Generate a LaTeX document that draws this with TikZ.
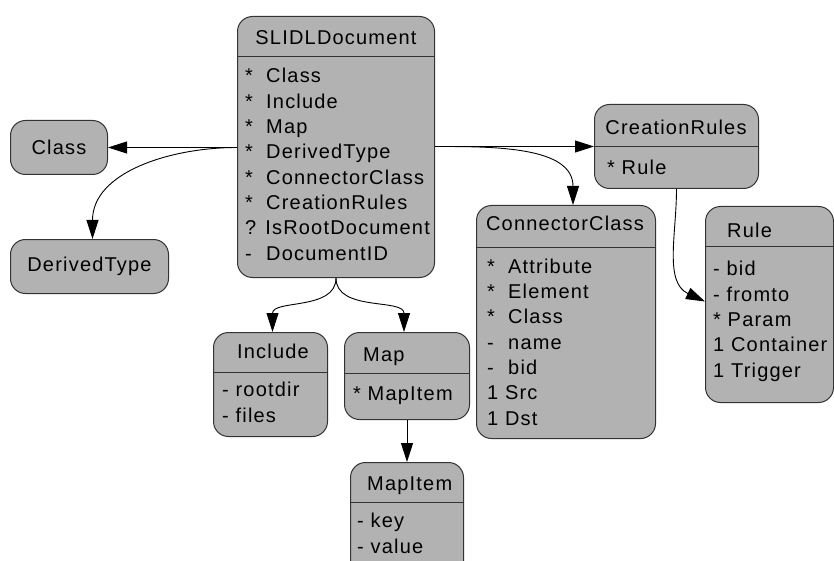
\documentclass[tikz,border=0pt]{standalone}
\usepackage{fontspec}
\setmainfont[LetterSpace=6]{Liberation Sans}
\usetikzlibrary{arrows.meta}
\definecolor{boxgray}{RGB}{178,178,178}
\newcommand{\mk}[1]{\makebox[21pt][l]{#1}}

\begin{document}
\begin{tikzpicture}[x=1pt,y=-1pt,
  classbox/.style={draw=black!80,line width=1pt,fill=boxgray,rounded corners=15pt,
    inner sep=0pt,anchor=north west,font=\fontsize{20}{25.3}\selectfont},
  hdrtext/.style={inner sep=0pt,font=\fontsize{20}{25.3}\selectfont},
  bodytext/.style={hdrtext,align=left,anchor=base west},
  sepline/.style={draw=black!80,line width=1pt},
  arr/.style={line width=0.9pt,-{Triangle[length=19pt,width=12pt]}}]
  \clip (0,0) rectangle (834,561);
  % boxes
  \node[classbox,minimum width=197,minimum height=261] (doc) at (237,16) {};
  \node[classbox,minimum width=97,minimum height=54] (cls) at (10,120) {Class};
  \node[classbox,minimum width=158,minimum height=54] (dt) at (10,239) {DerivedType};
  \node[classbox,minimum width=164,minimum height=84] (cr) at (594,104) {};
  \node[classbox,minimum width=179,minimum height=233] (cc) at (476,205) {};
  \node[classbox,minimum width=128,minimum height=196] (rule) at (705,206) {};
  \node[classbox,minimum width=114,minimum height=104] (inc) at (213,332) {};
  \node[classbox,minimum width=125,minimum height=87] (map) at (344,332) {};
  \node[classbox,minimum width=113,minimum height=120] (mi) at (350,462) {};
  % header lines
  \draw[sepline] (doc.west |- 0,57) -- (doc.east |- 0,57);
  \draw[sepline] (cr.west |- 0,147) -- (cr.east |- 0,147);
  \draw[sepline] (cc.west |- 0,247) -- (cc.east |- 0,247);
  \draw[sepline] (rule.west |- 0,246) -- (rule.east |- 0,246);
  \draw[sepline] (inc.west |- 0,372) -- (inc.east |- 0,372);
  \draw[sepline] (map.west |- 0,373) -- (map.east |- 0,373);
  \draw[sepline] (mi.west |- 0,502) -- (mi.east |- 0,502);
  % titles
  \node[hdrtext,anchor=base] (docT) at (336,45) {SLIDLDocument};
  \node[hdrtext,anchor=base] (crT) at (676,135) {CreationRules};
  \node[hdrtext,anchor=base] (ccT) at (565,230) {ConnectorClass};
  \node[hdrtext,anchor=base west] (ruleT) at (727,237) {Rule};
  \node[hdrtext,anchor=base] (incT) at (273,358) {Include};
  \node[hdrtext,anchor=base west] (mapT) at (363,361) {Map};
  \node[hdrtext,anchor=base west] (miT) at (367,490) {MapItem};
  % members (placed at the baseline of their last line)
  \node[bodytext] (docB) at (245,260)
    {\mk{*}Class\\\mk{*}Include\\\mk{*}Map\\\mk{*}DerivedType\\
     \mk{*}ConnectorClass\\\mk{*}CreationRules\\? IsRootDocument\\\mk{-}DocumentID};
  \node[bodytext] (crB) at (607,175) {* Rule};
  \node[bodytext] (ccB) at (487,425)
    {\mk{*}Attribute\\\mk{*}Element\\\mk{*}Class\\\mk{-}name\\\mk{-}bid\\1 Src\\1 Dst};
  \node[bodytext] (ruleB) at (713,377)
    {- bid\\- fromto\\* Param\\1 Container\\1 Trigger};
  \node[bodytext] (incB) at (222,422) {- rootdir\\- files};
  \node[bodytext] (mapB) at (353,400) {* MapItem};
  \node[bodytext] (miB) at (357,553) {- key\\- value};
  % connectors
  \draw[arr]
    (cls.east -| doc.west)
    --
    (cls.east);
  \draw[arr]
    (cls.east -| doc.west)
    to[out=180,in=90]
    ([xshift=3]dt.north);
  \draw[arr]
    (doc.east |- cr.west)
    --
    (cr.west);
  \draw[arr]
    (doc.east |- cr.west)
    to[out=0,in=90]
    ([xshift=7]cc.north);
  \draw[arr]
    (cr.south)
    to[out=270,in=155]
    ([yshift=3]rule.west);
  \draw[arr]
    (doc.south)
    to[out=270,in=90]
    ([xshift=2]inc.north);
  \draw[arr]
    (doc.south)
    to[out=270,in=90]
    ([xshift=-3]map.north);
  \draw[arr]
    (map.south)
    --
    (mi.north);
\end{tikzpicture}
\end{document}
